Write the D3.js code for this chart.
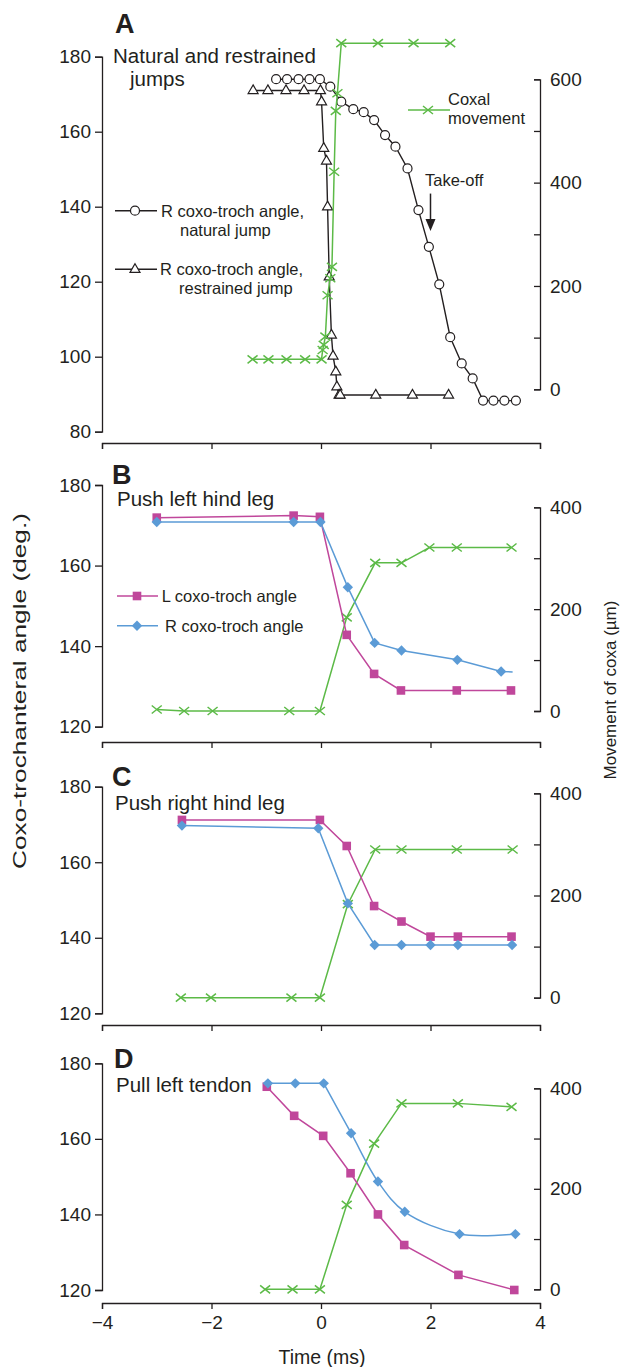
<!DOCTYPE html>
<html><head><meta charset="utf-8">
<script src="https://cdn.jsdelivr.net/npm/d3@7"></script>
<style>body{margin:0;background:#fff} svg{display:block}</style>
</head><body>
<script>
// ---------- DATA ----------
const xTicks = [-4, -2, 0, 2, 4];
const aLeftTicks = [80, 100, 120, 140, 160, 180];
const aRightTicks = [0, 100, 200, 300, 400, 500, 600];
const bcdLeftTicks = [120, 140, 160, 180];
const bcdRightTicks = [0, 100, 200, 300, 400];

// Panel A
const aNatT = [-0.82,-0.62,-0.41,-0.21,-0.02,0.17,0.37,0.59,0.78,0.97,1.17,1.36,1.58,1.78,1.97,2.16,2.36,2.57,2.77,2.96,3.15,3.35,3.56];
const aNatV = [174,174,174,174,174,172,168,166,165.2,163.1,159.1,156,150.2,139.1,129.3,119.3,105.2,98.2,94.2,88.3,88.3,88.3,88.3];
const aResT = [-1.24,-0.97,-0.64,-0.31,-0.01,0.01,0.05,0.10,0.12,0.15,0.19,0.22,0.27,0.29,0.33,0.35,1.0,1.67,2.33];
const aResV = [171,171,171,171,171,168,155.6,152.2,140,121.3,105.8,100.2,96,92,89.8,89.8,89.8,89.8,89.8];
const aCoxT = [-1.25,-0.96,-0.63,-0.29,0.01,0.03,0.05,0.08,0.12,0.17,0.2,0.24,0.27,0.3,0.37,1.04,1.69,2.36];
const aCoxV = [58,58,58,58,58,76,86,102,182,215,237,421,539,573,670,670,670,670];
const takeoffT = 2.0, takeoffFrom = 143.5, takeoffTo = 133.5;

// Panel B (push left hind leg)
const bLT = [-3.0,-0.5,-0.02,0.47,0.97,1.46,2.48,3.47];
const bLV = [171.9,172.4,172.1,142.8,133.1,129,129,129];
const bRT = [-3.0,-0.5,-0.01,0.49,0.98,1.47,2.49,3.29,3.5];
const bRV = [170.8,170.8,170.8,154.6,140.8,138.9,136.6,133.7,133.6];
const bRMark = [1,1,1,1,1,1,1,1,0];
const bCoxT = [-3.0,-2.5,-1.98,-0.58,-0.02,0.47,0.99,1.47,1.98,2.48,3.48];
const bCoxV = [3,0,0,0,0,184,291,291,321,321,321];

// Panel C (push right hind leg)
const cLT = [-2.54,-0.02,0.47,0.97,1.47,2.0,2.5,3.48];
const cLV = [171.2,171.2,164.3,148.4,144.3,140.3,140.3,140.3];
const cRT = [-2.54,-0.05,0.49,0.98,1.47,2.0,2.5,3.49];
const cRV = [169.7,169.0,149.1,138.1,138.1,138.1,138.1,138.1];
const cCoxT = [-2.56,-2.01,-0.54,-0.02,0.49,0.99,1.47,2.48,3.5];
const cCoxV = [0,0,0,0,183,290,290,290,290];

// Panel D (pull left tendon)
const dLT = [-0.99,-0.49,0.04,0.54,1.04,1.52,2.51,3.53];
const dLV = [173.8,166.1,160.8,150.9,140,131.9,124,120];
const dRT = [-0.97,-0.47,0.05,0.55,1.04,1.53,2.53,3.55];
const dRV = [174.7,174.7,174.7,161.5,148.7,140.7,134.8,134.8];
const dCoxT = [-1.02,-0.52,-0.02,0.47,0.97,1.47,2.5,3.48];
const dCoxV = [0,0,0,168,290,370,370,363];

// ---------- STYLE / LAYOUT ----------
const FONT = "'Liberation Sans', Arial, Helvetica, sans-serif";
const C_MAG = "#c0479b", C_BLUE = "#5b9bd6", C_GREEN = "#5cba47", C_BLK = "#231f20";
const W = 622, H = 1367;
const svg = d3.select("body").append("svg").attr("width", W).attr("height", H)
  .style("font-family", FONT);
const x = d3.scaleLinear().domain([-4, 4]).range([102, 540]);

const panels = [
  {letter:'A', lx:115, ly:33, title:["Natural and restrained","jumps"], tx:[113,130], ty:[62.7,86],
   yL:[80,180], yLR:[431.7,56.7], yR:[0,600], yRR:[389.3,79.3], axY:443, lt:aLeftTicks, rt:aRightTicks, lab:false},
  {letter:'B', lx:112, ly:483.5, title:["Push left hind leg"], tx:[117], ty:[505.5],
   yL:[120,180], yLR:[726.7,485], yR:[0,400], yRR:[711,507.3], axY:742, lt:bcdLeftTicks, rt:bcdRightTicks, lab:false},
  {letter:'C', lx:112, ly:786, title:["Push right hind leg"], tx:[115], ty:[809.5],
   yL:[120,180], yLR:[1013.3,786.7], yR:[0,400], yRR:[997.7,793.3], axY:1025, lt:bcdLeftTicks, rt:bcdRightTicks, lab:false},
  {letter:'D', lx:114, ly:1067.5, title:["Pull left tendon"], tx:[116], ty:[1091.5],
   yL:[120,180], yLR:[1290,1063.3], yR:[0,400], yRR:[1289.3,1088.3], axY:1303, lt:bcdLeftTicks, rt:bcdRightTicks, lab:true}
];

function styleAxis(g){
  g.selectAll("path,line").attr("stroke", C_BLK).attr("stroke-width", 1.3);
  g.selectAll("text").attr("font-family", FONT).attr("font-size", 19).attr("fill", C_BLK);
}

function drawMarker(type, pt, color){
  const g = svg.append("g").attr("transform", `translate(${pt[0]},${pt[1]})`);
  if (type === "circle") {
    g.append("circle").attr("r", 4.5).attr("fill", "#fff").attr("stroke", C_BLK).attr("stroke-width", 1.2);
  } else if (type === "triangle") {
    g.append("path").attr("d", "M0,-5.6L5,3.1L-5,3.1Z").attr("fill", "#fff").attr("stroke", C_BLK).attr("stroke-width", 1.2);
  } else if (type === "x") {
    g.append("path").attr("d", "M-5,-4L5,4M-5,4L5,-4").attr("fill", "none").attr("stroke", color).attr("stroke-width", 1.5);
  } else if (type === "square") {
    g.append("rect").attr("x", -4.3).attr("y", -4.3).attr("width", 8.6).attr("height", 8.6).attr("fill", color);
  } else if (type === "diamond") {
    g.append("path").attr("d", "M0,-5.2L5.2,0L0,5.2L-5.2,0Z").attr("fill", color);
  }
}

// smoothFrom: index from which the line is drawn as a smooth curve (straight before)
function series(ts, vs, yscale, o){
  const pts = ts.map((t, i) => [x(t), yscale(vs[i])]);
  const add = (arr, curve) => svg.append("path").attr("d", d3.line().curve(curve)(arr))
    .attr("fill", "none").attr("stroke", o.color).attr("stroke-width", o.lw || 1.5);
  if (o.smoothFrom != null) {
    add(pts.slice(0, o.smoothFrom + 1), d3.curveLinear);
    add(pts.slice(o.smoothFrom), d3.curveCatmullRom.alpha(0.5));
  } else {
    add(pts, d3.curveLinear);
  }
  pts.forEach((pt, i) => { if (o.mask && !o.mask[i]) return; drawMarker(o.marker, pt, o.color); });
}

const scales = panels.map(p => {
  const yl = d3.scaleLinear().domain(p.yL).range(p.yLR);
  const yr = d3.scaleLinear().domain(p.yR).range(p.yRR);
  svg.append("g").attr("transform", "translate(102,0)")
    .call(d3.axisLeft(yl).tickValues(p.lt).tickSize(7).tickPadding(4)).call(styleAxis);
  svg.append("g").attr("transform", "translate(540,0)")
    .call(d3.axisRight(yr).tickValues(p.rt).tickSizeInner(-6).tickSizeOuter(-6).tickPadding(10)
      .tickFormat(d => d % 200 === 0 ? d : "")).call(styleAxis);
  svg.append("g").attr("transform", `translate(0,${p.axY})`)
    .call(d3.axisBottom(x).tickValues(xTicks).tickSize(6).tickPadding(7)
      .tickFormat(d => p.lab ? (d < 0 ? "\u2212" + Math.abs(d) : String(d)) : "")).call(styleAxis);
  svg.append("text").attr("x", p.lx).attr("y", p.ly).text(p.letter)
    .attr("font-size", 27).attr("font-weight", "bold").attr("fill", C_BLK);
  p.title.forEach((t, i) => svg.append("text").attr("x", p.tx[i]).attr("y", p.ty[i]).text(t)
    .attr("font-size", 20.5).attr("fill", C_BLK));
  return {yl, yr};
});

// ---------- Panel A ----------
{
  const {yl, yr} = scales[0];
  series(aNatT, aNatV, yl, {color:C_BLK, marker:"circle", lw:1.4});
  series(aResT, aResV, yl, {color:C_BLK, marker:"triangle", lw:1.4});
  series(aCoxT, aCoxV, yr, {color:C_GREEN, marker:"x", lw:1.5});
  const ax = x(takeoffT), y0 = yl(takeoffFrom), y1 = yl(takeoffTo);
  svg.append("line").attr("x1", ax).attr("x2", ax).attr("y1", y0).attr("y2", y1 - 8)
    .attr("stroke", C_BLK).attr("stroke-width", 1.5);
  svg.append("path").attr("d", `M${ax-5},${y1-12}L${ax+5},${y1-12}L${ax},${y1}Z`).attr("fill", C_BLK);
  svg.append("text").attr("x", 425).attr("y", 186).text("Take-off").attr("font-size", 16.5).attr("fill", C_BLK);
  const leg = [
    {y:210.7, m:"circle", l1:"R coxo-troch angle,", l2:"natural jump", x1:161, x2:180},
    {y:269.3, m:"triangle", l1:"R coxo-troch angle,", l2:"restrained jump", x1:160, x2:179}
  ];
  leg.forEach(d => {
    svg.append("line").attr("x1", 115).attr("x2", 157).attr("y1", d.y).attr("y2", d.y).attr("stroke", C_BLK).attr("stroke-width", 1.4);
    drawMarker(d.m, [135, d.y], C_BLK);
    svg.append("text").attr("x", d.x1).attr("y", d.y + 6).text(d.l1).attr("font-size", 16.5).attr("fill", C_BLK);
    svg.append("text").attr("x", d.x2).attr("y", d.y + 25).text(d.l2).attr("font-size", 16.5).attr("fill", C_BLK);
  });
  svg.append("line").attr("x1", 408).attr("x2", 450).attr("y1", 110).attr("y2", 110).attr("stroke", C_GREEN).attr("stroke-width", 1.5);
  drawMarker("x", [428, 110], C_GREEN);
  svg.append("text").attr("x", 448).attr("y", 105).text("Coxal").attr("font-size", 16.5).attr("fill", C_BLK);
  svg.append("text").attr("x", 448).attr("y", 124).text("movement").attr("font-size", 16.5).attr("fill", C_BLK);
}

// ---------- Panels B, C, D ----------
const bcd = [
  {s:scales[1], cox:[bCoxT,bCoxV], L:[bLT,bLV], R:[bRT,bRV], mask:bRMark, smooth:null},
  {s:scales[2], cox:[cCoxT,cCoxV], L:[cLT,cLV], R:[cRT,cRV], mask:null, smooth:null},
  {s:scales[3], cox:[dCoxT,dCoxV], L:[dLT,dLV], R:[dRT,dRV], mask:null, smooth:2}
];
bcd.forEach(p => {
  series(p.cox[0], p.cox[1], p.s.yr, {color:C_GREEN, marker:"x"});
  series(p.L[0], p.L[1], p.s.yl, {color:C_MAG, marker:"square"});
  series(p.R[0], p.R[1], p.s.yl, {color:C_BLUE, marker:"diamond", mask:p.mask, smoothFrom:p.smooth});
});

[{y:596, m:"square", c:C_MAG, t:"L coxo-troch angle", tx:161.7},
 {y:625.7, m:"diamond", c:C_BLUE, t:"R coxo-troch angle", tx:165}].forEach(d => {
  svg.append("line").attr("x1", 117).attr("x2", 158).attr("y1", d.y).attr("y2", d.y).attr("stroke", d.c).attr("stroke-width", 1.5);
  drawMarker(d.m, [137, d.y], d.c);
  svg.append("text").attr("x", d.tx).attr("y", d.y + 6).text(d.t).attr("font-size", 16.5).attr("fill", C_BLK);
});

// axis titles
svg.append("text").attr("transform", "translate(26,691) rotate(-90)").attr("text-anchor", "middle")
  .attr("textLength", 356).attr("lengthAdjust", "spacingAndGlyphs")
  .text("Coxo-trochanteral angle (deg.)").attr("font-size", 17.5).attr("fill", C_BLK);
svg.append("text").attr("transform", "translate(616,690) rotate(-90)").attr("text-anchor", "middle")
  .text("Movement of coxa (\u00b5m)").attr("font-size", 17).attr("fill", C_BLK);
svg.append("text").attr("x", 322).attr("y", 1364).attr("text-anchor", "middle")
  .text("Time (ms)").attr("font-size", 19.5).attr("fill", C_BLK);
</script>
</body></html>
